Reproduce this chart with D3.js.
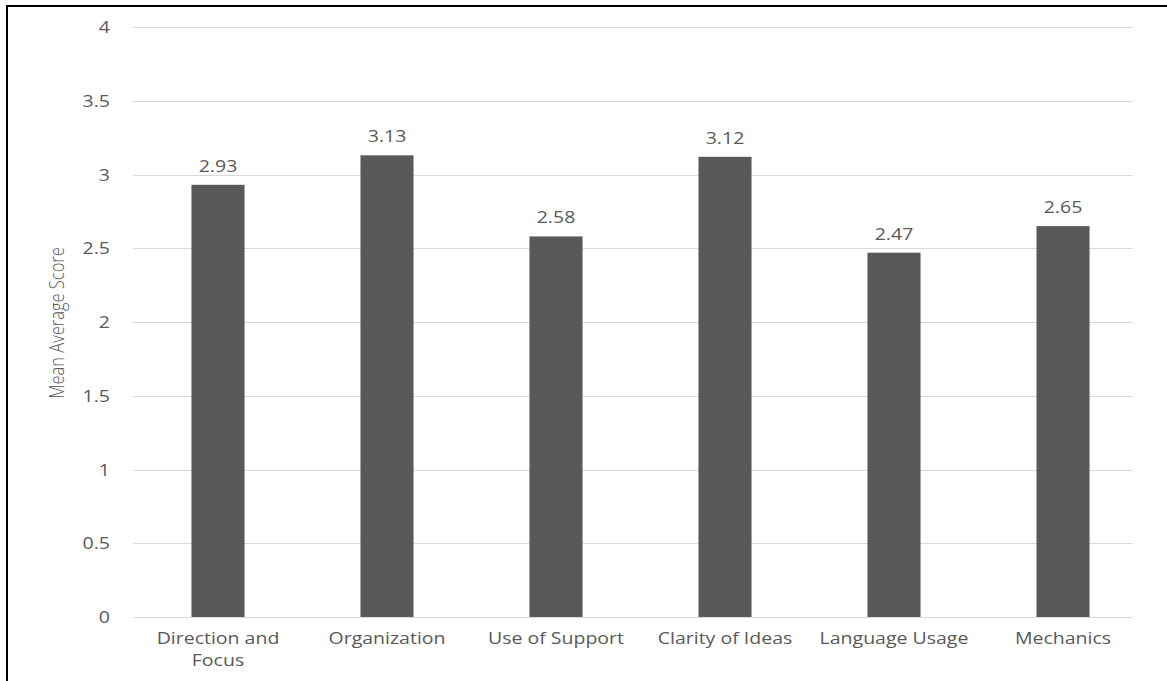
<!DOCTYPE html>
<html>
<head>
<meta charset="utf-8">
<script src="https://cdn.jsdelivr.net/npm/d3@7"></script>
<style>
  html, body { margin: 0; padding: 0; background: #ffffff; }
  svg { display: block; }
  text { font-family: "Open Sans", "DejaVu Sans", sans-serif; fill: #595959; }
</style>
</head>
<body>
<svg id="chart" width="1167" height="681"></svg>
<script>
// Rubric dimensions and their mean scores
const categories = ["Direction and Focus", "Organization", "Use of Support", "Clarity of Ideas", "Language Usage", "Mechanics"];
const meanScores = [2.93, 3.13, 2.58, 3.12, 2.47, 2.65];
const yTicks = [0, 0.5, 1, 1.5, 2, 2.5, 3, 3.5, 4];
const yTickLabels = ["0", "0.5", "1", "1.5", "2", "2.5", "3", "3.5", "4"];
const yTitle = "Mean Average Score";

const svg = d3.select("#chart");
const W = 1167, H = 681;
const STRETCH = 1.22;   // text is drawn slightly wide
const FS = 16;

// Plot area
const plot = { left: 133, right: 1133, top: 27, bottom: 617 };

const y = d3.scaleLinear().domain([0, 4]).range([plot.bottom, plot.top]);
const x = d3.scaleBand()
  .domain(categories)
  .range([133.5, 1147.5])
  .paddingInner(0.686)
  .paddingOuter(0.343);

// Frame: top and left edges
svg.append("line")
  .attr("x1", 6).attr("x2", W).attr("y1", 6).attr("y2", 6)
  .attr("stroke", "#000").attr("stroke-width", 2);
svg.append("line")
  .attr("x1", 7).attr("x2", 7).attr("y1", 5).attr("y2", H)
  .attr("stroke", "#000").attr("stroke-width", 2);

// Horizontal gridlines
svg.append("g")
  .selectAll("line")
  .data(yTicks)
  .join("line")
  .attr("x1", plot.left).attr("x2", plot.right)
  .attr("y1", d => Math.round(y(d)) + 0.5)
  .attr("y2", d => Math.round(y(d)) + 0.5)
  .attr("stroke", "#d9d9d9").attr("stroke-width", 1);

// Y axis tick labels
svg.append("g")
  .selectAll("text")
  .data(yTicks)
  .join("text")
  .attr("transform", d => `translate(110,${y(d) + 6}) scale(${STRETCH},1)`)
  .attr("text-anchor", "end")
  .style("font-size", FS + "px")
  .text((d, i) => yTickLabels[i]);

// Y axis title
svg.append("text")
  .attr("transform", `translate(64,323) rotate(-90) scale(1,${STRETCH})`)
  .attr("text-anchor", "middle")
  .style("font-size", "16.5px")
  .style("font-weight", 300)
  .text(yTitle);

// Bars
svg.append("g")
  .selectAll("rect")
  .data(categories)
  .join("rect")
  .attr("x", d => x(d))
  .attr("width", x.bandwidth())
  .attr("y", (d, i) => y(meanScores[i]))
  .attr("height", (d, i) => y(0) - y(meanScores[i]))
  .attr("fill", "#595959");

// Value labels above bars
svg.append("g")
  .selectAll("text")
  .data(categories)
  .join("text")
  .attr("transform", (d, i) => `translate(${x(d) + x.bandwidth() / 2},${y(meanScores[i]) - 13}) scale(${STRETCH},1)`)
  .attr("text-anchor", "middle")
  .style("font-size", FS + "px")
  .text((d, i) => meanScores[i].toFixed(2));

// Category labels, wrapped to the band step
const catG = svg.append("g");
categories.forEach(c => {
  const cx = x(c) + x.bandwidth() / 2;
  const t = catG.append("text")
    .attr("transform", `translate(${cx},644) scale(${STRETCH},1)`)
    .attr("text-anchor", "middle")
    .style("font-size", FS + "px");
  const words = c.split(" ");
  let line = [];
  let tspan = t.append("tspan").attr("x", 0).attr("y", 0);
  let lineNo = 0;
  words.forEach(w => {
    line.push(w);
    tspan.text(line.join(" "));
    if (tspan.node().getComputedTextLength() * STRETCH > x.step() && line.length > 1) {
      line.pop();
      tspan.text(line.join(" "));
      line = [w];
      lineNo++;
      tspan = t.append("tspan").attr("x", 0).attr("y", lineNo * 22).text(w);
    }
  });
});
</script>
</body>
</html>
